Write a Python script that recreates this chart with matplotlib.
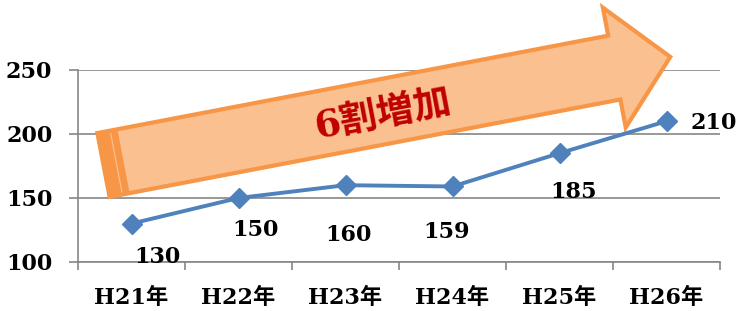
import numpy as np
import matplotlib
matplotlib.use("Agg")
import matplotlib.pyplot as plt
from matplotlib.patches import Polygon
from matplotlib.ticker import FixedLocator

years = ["H21年", "H22年", "H23年", "H24年", "H25年", "H26年"]
values = [130, 150, 160, 159, 185, 210]
y_ticks = [100, 150, 200, 250]
# hand placed data label offsets (points), like the original
label_offsets = [(19, -24), (12, -23), (2, -36), (-4, -33), (10, -28), (34, -1)]
banner = "6割増加"

W, H = 738, 311
fonts = ["DejaVu Serif", "Noto Sans CJK JP"]
plt.rcParams["font.family"] = fonts

fig = plt.figure(figsize=(W / 100, H / 100), dpi=100)
ax = fig.add_axes([78 / W, 49 / H, 642 / W, 192 / H])

x = np.arange(len(years))
ax.plot(x, values, color="#4F81BD", lw=2.8, marker="D", ms=10, zorder=5, clip_on=False)
for xi, v, off in zip(x, values, label_offsets):
    ax.annotate(str(v), (xi, v), xytext=off, textcoords="offset points",
                ha="center", va="center", fontsize=16, fontweight="bold",
                color="black", zorder=6)

ax.set_xlim(-0.5, len(years) - 0.5)
ax.set_ylim(100, 250)
ax.set_yticks(y_ticks)
ax.set_xticks(x)
ax.set_xticklabels(years, fontsize=16, fontweight="bold")
ax.xaxis.set_minor_locator(FixedLocator(np.arange(len(years) + 1) - 0.5))
ax.tick_params(axis="x", which="major", length=0, pad=18)
ax.tick_params(axis="x", which="minor", length=6, width=1.2, color="#868686", direction="out")
ax.tick_params(axis="y", length=6.5, width=1.2, color="#868686", pad=12, labelsize=16)
for lab in ax.get_yticklabels():
    lab.set_fontweight("bold")
ax.grid(axis="y", color="#868686", lw=1.2, zorder=0)
ax.set_axisbelow(True)
for s in ["top", "right"]:
    ax.spines[s].set_visible(False)
for s in ["left", "bottom"]:
    ax.spines[s].set_color("#868686")
    ax.spines[s].set_linewidth(1.2)

# big arrow (drawn in figure pixels, local frame u along / v across)
c = np.array([103.5, 146.0])
th = np.deg2rad(10.8)
d = np.array([np.cos(th), np.sin(th)])
n = np.array([-np.sin(th), np.cos(th)])


def pts(uv):
    p = np.array([c + u * d + v * n for u, v in uv])
    return p / np.array([W, H])


body = [(0, 32.5), (520, 32.5), (520, 61), (577, 0), (520, -61), (520, -32.5), (0, -32.5)]
ax.add_patch(Polygon(pts(body), closed=True, transform=fig.transFigure, fc="#FAC090",
                     ec="#F79646", lw=3, joinstyle="miter", clip_on=False, zorder=3))
for u0, u1 in [(0, 11), (15, 19)]:
    stripe = [(u0, 32.5), (u1, 32.5), (u1, -32.5), (u0, -32.5)]
    ax.add_patch(Polygon(pts(stripe), closed=True, transform=fig.transFigure, fc="#F79646",
                         ec="#F79646", lw=2, joinstyle="miter", clip_on=False, zorder=3.5))
tc = c + 284 * d - 3 * n
ax.text(tc[0] / W, tc[1] / H, banner, transform=fig.transFigure, rotation=10.8,
        rotation_mode="anchor", ha="center", va="center", fontsize=27,
        fontweight="bold", color="#C00000", zorder=4)

fig.savefig("out.png", dpi=100)
